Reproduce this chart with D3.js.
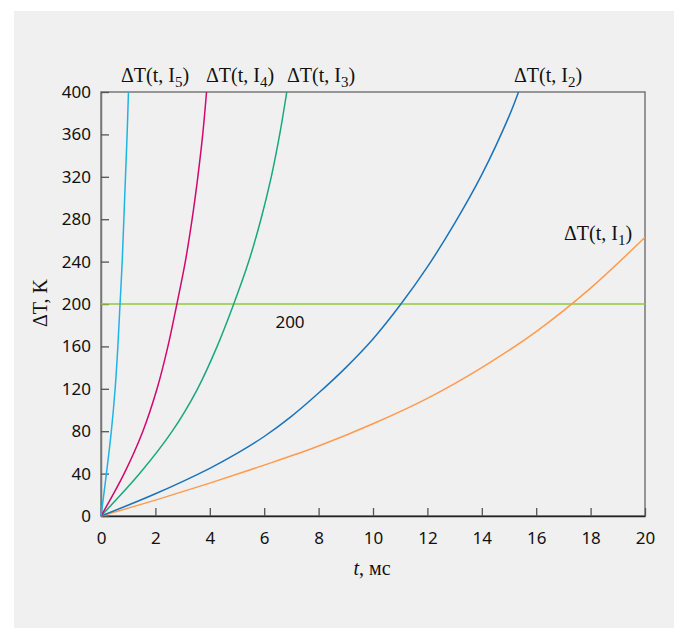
<!DOCTYPE html>
<html>
<head>
<meta charset="utf-8">
<script src="https://cdn.jsdelivr.net/npm/d3@7"></script>
<style>
  body { margin: 0; background: #fff; }
  .tick text { font-family: "Noto Sans", sans-serif; font-size: 17px; fill: #111; }
  .lbl { font-family: "Liberation Serif", serif; font-size: 20px; fill: #111; }
</style>
</head>
<body>
<div id="chart"></div>
<script>
// data: time (ms) and temperature rise (K) per current
const tI1 = [0, 2, 4, 6, 8, 10, 12, 14, 16, 18, 20];
const vI1 = [0, 15, 31, 48, 66, 87, 111, 140, 174, 215, 263];
const tI2 = [0, 2, 4, 5, 6, 7, 8, 9, 10, 11, 12, 13, 14, 15, 15.35];
const vI2 = [0, 21, 45, 59, 75, 94, 116, 140, 167, 199, 235, 276, 322, 377, 400];
const tI3 = [0, 1.42, 2.62, 3.55, 4.27, 4.88, 5.43, 5.88, 6.26, 6.57, 6.83];
const vI3 = [0, 40, 80, 120, 160, 200, 240, 280, 320, 360, 400];
const tI4 = [0, 0.85, 1.54, 2.06, 2.46, 2.79, 3.1, 3.35, 3.56, 3.74, 3.88];
const vI4 = [0, 40, 80, 120, 160, 200, 240, 280, 320, 360, 400];
const tI5 = [0, 0.2, 0.38, 0.52, 0.62, 0.7, 0.78, 0.84, 0.9, 0.96, 1.01];
const vI5 = [0, 40, 80, 120, 160, 200, 240, 280, 320, 360, 400];

const xTicks = [0, 2, 4, 6, 8, 10, 12, 14, 16, 18, 20];
const yTicks = [0, 40, 80, 120, 160, 200, 240, 280, 320, 360, 400];
const refLevel = 200;

const series = [
  {sub: "1", t: tI1, v: vI1, color: "#ff9a4d", lx: 598, ly: 240},
  {sub: "2", t: tI2, v: vI2, color: "#1a73ba", lx: 548, ly: 82},
  {sub: "3", t: tI3, v: vI3, color: "#17a97b", lx: 321, ly: 82},
  {sub: "4", t: tI4, v: vI4, color: "#d1096f", lx: 240, ly: 82},
  {sub: "5", t: tI5, v: vI5, color: "#1fb4e6", lx: 155, ly: 82}
];

const W = 674, H = 628;
const margin = {top: 92, right: 29, bottom: 112, left: 101};

const svg = d3.select("#chart").append("svg")
    .attr("width", W)
    .attr("height", H);

svg.append("rect")
    .attr("x", 14).attr("y", 11)
    .attr("width", W - 14).attr("height", H - 11)
    .attr("fill", "#f0f0f0");

const x = d3.scaleLinear().domain([0, 20]).range([margin.left, W - margin.right]);
const y = d3.scaleLinear().domain([0, 400]).range([H - margin.bottom, margin.top]);

// frame
svg.append("rect")
    .attr("x", x(0)).attr("y", y(400))
    .attr("width", x(20) - x(0)).attr("height", y(0) - y(400))
    .attr("fill", "none")
    .attr("stroke", "#777")
    .attr("stroke-width", 1.5);

const xAxis = svg.append("g")
    .attr("transform", `translate(0,${y(0)})`)
    .call(d3.axisBottom(x).tickValues(xTicks).tickSize(-8).tickPadding(16).tickSizeOuter(0));
xAxis.select(".domain").attr("stroke", "#222").attr("stroke-width", 1.5);

const yAxis = svg.append("g")
    .attr("transform", `translate(${x(0)},0)`)
    .call(d3.axisLeft(y).tickValues(yTicks).tickSize(-8).tickPadding(10).tickSizeOuter(0));
yAxis.select(".domain").attr("stroke", "#777").attr("stroke-width", 1.5);
svg.selectAll(".tick line").attr("stroke", "#555").attr("stroke-width", 1.3);

// reference line
svg.append("line")
    .attr("x1", x(0)).attr("x2", x(20))
    .attr("y1", y(refLevel)).attr("y2", y(refLevel))
    .attr("stroke", "#8ccc3a")
    .attr("stroke-width", 1.6);

svg.append("text")
    .attr("x", 290).attr("y", y(refLevel) + 24)
    .attr("text-anchor", "middle")
    .style("font-family", "Noto Sans, sans-serif")
    .style("font-size", "17px")
    .attr("fill", "#111")
    .text(refLevel);

const line = d3.line()
    .x(d => x(d[0]))
    .y(d => y(d[1]))
    .curve(d3.curveCatmullRom.alpha(0.5));

svg.selectAll("path.curve")
    .data(series)
    .join("path")
    .attr("class", "curve")
    .attr("d", s => line(s.t.map((t, i) => [t, s.v[i]])))
    .attr("fill", "none")
    .attr("stroke", s => s.color)
    .attr("stroke-width", 1.5);

// curve labels
series.forEach(s => {
  const tx = svg.append("text")
      .attr("class", "lbl")
      .attr("x", s.lx).attr("y", s.ly)
      .attr("text-anchor", "middle");
  tx.append("tspan").text("ΔT(t, I");
  tx.append("tspan").attr("dy", 5).style("font-size", "15px").text(s.sub);
  tx.append("tspan").attr("dy", -5).text(")");
});

// axis titles
const xt = svg.append("text")
    .attr("class", "lbl")
    .attr("x", 372).attr("y", 575)
    .attr("text-anchor", "middle");
xt.append("tspan").style("font-style", "italic").text("t");
xt.append("tspan").text(", мс");

svg.append("text")
    .attr("class", "lbl")
    .attr("transform", "translate(47,303) rotate(-90)")
    .attr("text-anchor", "middle")
    .text("ΔT, K");
</script>
</body>
</html>
